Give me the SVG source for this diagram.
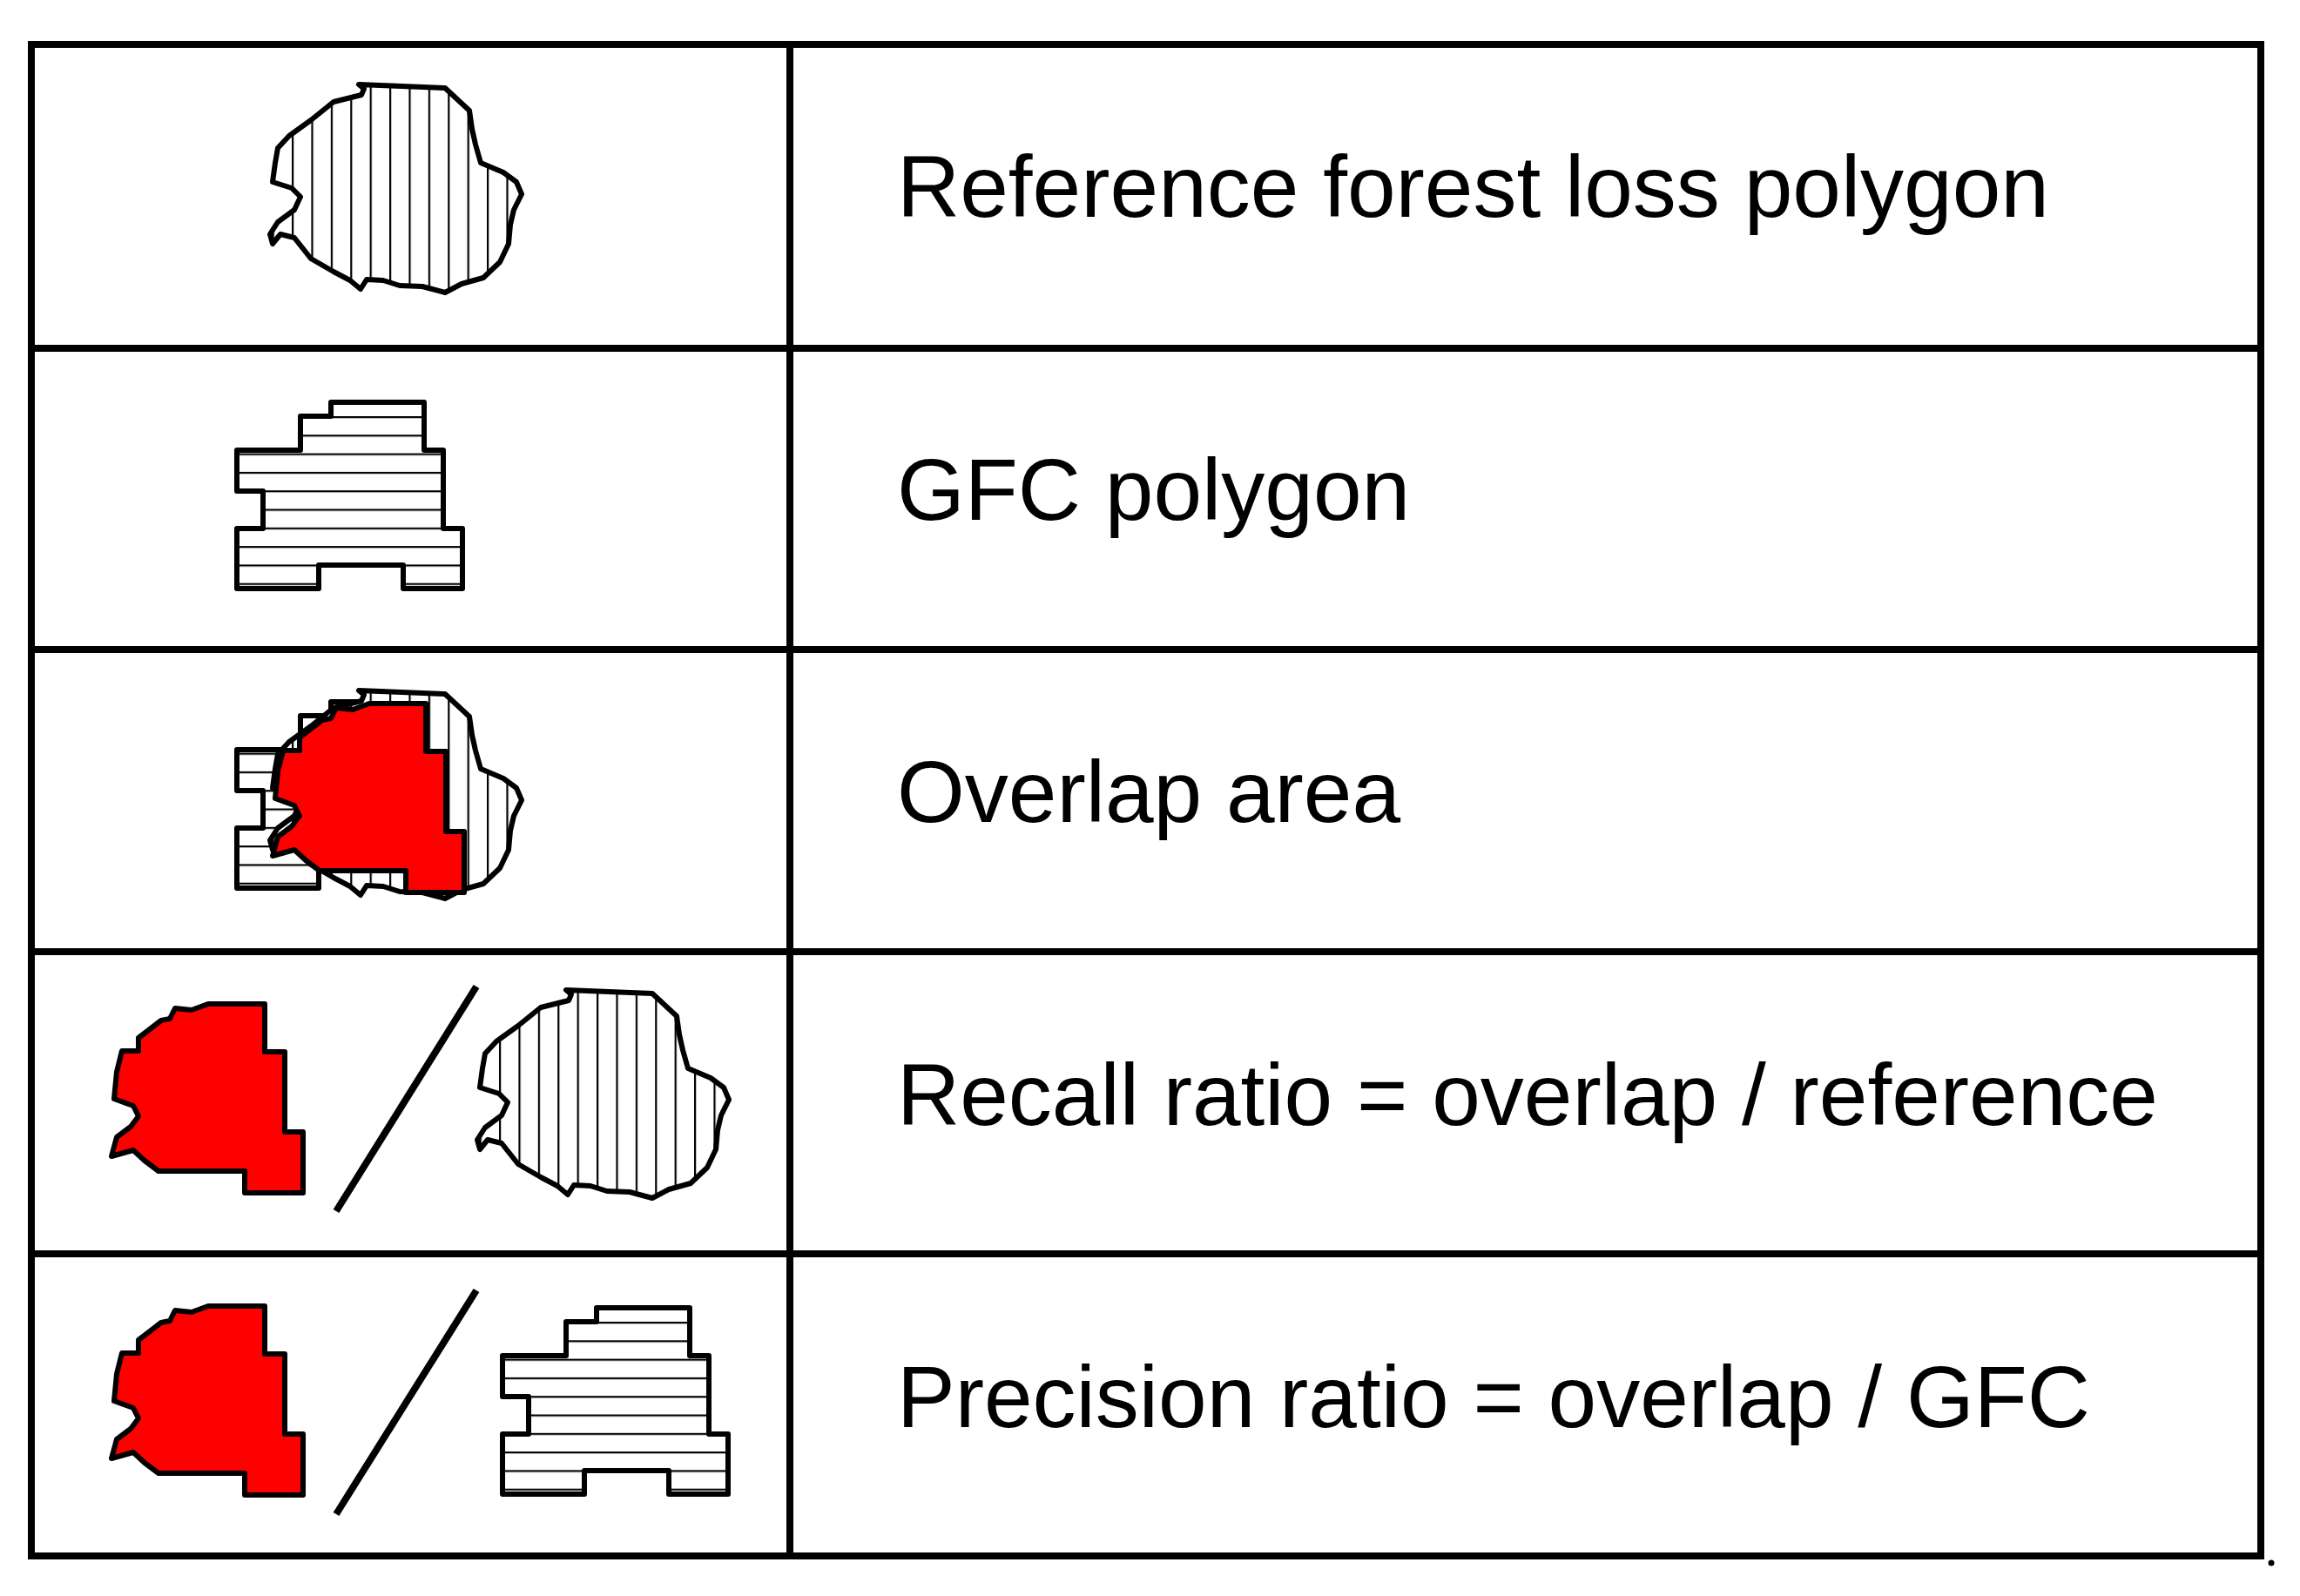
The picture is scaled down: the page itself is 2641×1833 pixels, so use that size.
<svg xmlns="http://www.w3.org/2000/svg" xmlns:xlink="http://www.w3.org/1999/xlink" width="2641" height="1833" viewBox="0 0 2641 1833">
<style>
.grid{stroke:#000;stroke-width:8;fill:none}
.lbl{font-family:"Liberation Sans",Arial,sans-serif;font-size:100px;fill:#000}
.ol{stroke:#000;stroke-width:6;stroke-linejoin:round}
</style>
<defs>
<pattern id="vh" patternUnits="userSpaceOnUse" x="335" y="0" width="22.4" height="10"><rect width="22.4" height="10" fill="#fff"/><line x1="1" y1="0" x2="1" y2="10" stroke="#000" stroke-width="2.4"/></pattern>
<pattern id="hh" patternUnits="userSpaceOnUse" x="0" y="478" width="10" height="21.3"><rect width="10" height="21.3" fill="#fff"/><line x1="0" y1="1" x2="10" y2="1" stroke="#000" stroke-width="2.4"/></pattern>
<path id="blob" class="ol" fill="url(#vh)" d="M412,97 L511,101 L539,127 L542,148 L546,166 L552,187 L578,198 L593,209 L599,223 L590,241 L586,258 L584,280 L574,301 L555,319 L530,326 L511,336 L485,329 L459,328 L440,322 L421,321 L414,332 L402,322 L383,312 L357,297 L338,273 L322,269 L313,280 L310,269 L319,255 L338,241 L345,226 L335,216 L313,209 L316,187 L319,170 L332,156 L357,138 L383,117 L415,109 L418,102 Z"/>
<path id="gfc" class="ol" fill="url(#hh)" stroke-linejoin="miter" d="M380,462 L487,462 L487,517 L509,517 L509,607 L531,607 L531,676 L463,676 L463,649 L366,649 L366,676 L272,676 L272,607 L302,607 L302,564 L272,564 L272,517 L345,517 L345,478 L380,478 Z"/>
<path id="red" class="ol" fill="#f00" d="M182,1345 L281,1345 L281,1370 L348,1370 L348,1300 L327,1300 L327,1208 L304,1208 L304,1153 L239,1153 L220,1160 L201,1158 L195,1170 L185,1172 L159,1192 L159,1207 L140,1207 L134,1231 L131,1262 L153,1270 L159,1282 L150,1294 L134,1306 L128,1328 L153,1321 L166,1333 Z"/>
</defs>
<g id="table">
<rect class="grid" x="36" y="51" width="2560" height="1736"/>
<line class="grid" x1="907" y1="51" x2="907" y2="1787"/>
<line class="grid" x1="36" y1="400" x2="2596" y2="400"/>
<line class="grid" x1="36" y1="746" x2="2596" y2="746"/>
<line class="grid" x1="36" y1="1093" x2="2596" y2="1093"/>
<line class="grid" x1="36" y1="1440" x2="2596" y2="1440"/>
<circle cx="2608" cy="1795" r="3.5" fill="#000"/>
</g>
<g id="row1"><use xlink:href="#blob"/><text class="lbl" x="1030" y="249">Reference forest loss polygon</text></g>
<g id="row2"><use xlink:href="#gfc"/><text class="lbl" x="1030" y="597">GFC polygon</text></g>
<g id="row3"><use xlink:href="#gfc" transform="translate(0,344)"/><use xlink:href="#blob" transform="translate(0,696)"/><use xlink:href="#red" transform="translate(185,-345)"/><text class="lbl" x="1030" y="944">Overlap area</text></g>
<g id="row4"><use xlink:href="#red"/><line x1="547" y1="1133" x2="386" y2="1391" stroke="#000" stroke-width="8"/><use xlink:href="#blob" transform="translate(238,1040)"/><text class="lbl" x="1030" y="1292">Recall ratio = overlap / reference</text></g>
<g id="row5"><use xlink:href="#red" transform="translate(0,347)"/><line x1="547" y1="1482" x2="386" y2="1739" stroke="#000" stroke-width="8"/><use xlink:href="#gfc" transform="translate(305,1040)"/><text class="lbl" x="1030" y="1639">Precision ratio = overlap / GFC</text></g>
</svg>
